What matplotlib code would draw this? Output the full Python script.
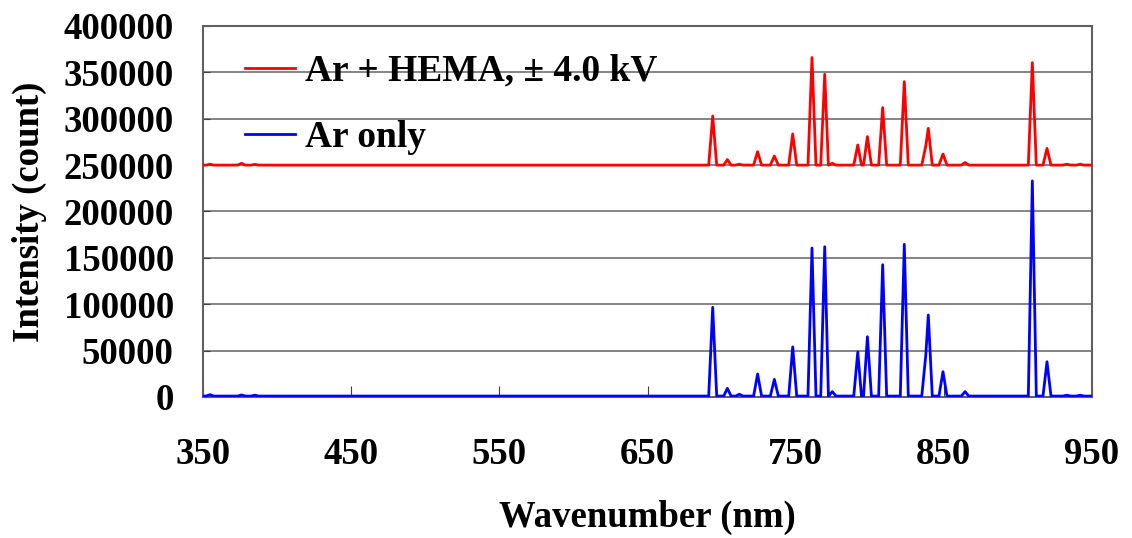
import numpy as np
import matplotlib.pyplot as plt

plt.rcParams['font.family'] = ['Liberation Serif', 'DejaVu Serif']
plt.rcParams['font.weight'] = 'bold'

# Spectrum vertices (one emission line per row)
wavelength = [350,
              352.2, 354.7, 357.2,
              373.5, 376.0, 378.5,
              382.5, 385.0, 387.5,
              691.3, 694.0, 696.7,
              701.4, 703.9, 706.4,
              709.5, 712.0, 714.5,
              721.6, 724.3, 727.0,
              732.9, 735.6, 738.3,
              745.3, 748.0, 750.7,
              758.3, 761.0, 763.7,
              766.9, 769.6, 772.1,
              772.2, 774.7, 777.2,
              789.2, 791.9, 794.4,
              795.8, 798.4, 801.1,
              806.0, 808.7, 811.4,
              820.6, 823.3, 826.0,
              835.1, 837.8, 839.5, 842.2,
              846.7, 849.4, 852.1,
              861.8, 864.3, 866.8,
              907.0, 909.7, 912.4,
              916.9, 919.6, 922.3,
              930.5, 933.0, 935.5,
              939.5, 942.0, 944.5,
              950]

ar_hema = [250000,
           250000, 251000, 250000,
           250000, 252000, 250000,
           250000, 250800, 250000,
           250000, 303000, 250000,
           250000, 256000, 250000,
           250000, 251000, 250000,
           250000, 264500, 250000,
           250000, 259800, 250000,
           250000, 283600, 250000,
           250000, 366000, 250000,
           250000, 348000, 250000,
           250000, 252000, 250000,
           250000, 271700, 250000,
           250000, 280700, 250000,
           250000, 312000, 250000,
           250000, 340000, 250000,
           250000, 270600, 289700, 250000,
           250000, 262000, 250000,
           250000, 252800, 250000,
           250000, 360500, 250000,
           250000, 268000, 250000,
           250000, 251000, 250000,
           250000, 251000, 250000,
           250000]

ar_only = [1000,
           1000, 2500, 1000,
           1000, 2200, 1000,
           1000, 2000, 1000,
           1000, 96700, 1000,
           1000, 9300, 1000,
           1000, 3000, 1000,
           1000, 24800, 1000,
           1000, 19000, 1000,
           1000, 54000, 1000,
           1000, 160600, 1000,
           1000, 162000, 1000,
           1000, 5800, 1000,
           1000, 48500, 1000,
           1000, 65000, 1000,
           1000, 142600, 1000,
           1000, 164600, 1000,
           1000, 45000, 88400, 1000,
           1000, 27300, 1000,
           1000, 5800, 1000,
           1000, 233000, 1000,
           1000, 38000, 1000,
           1000, 2000, 1000,
           1000, 2000, 1000,
           1000]

x_ticks = [350, 450, 550, 650, 750, 850, 950]
y_ticks = np.arange(0, 400001, 50000)

fig = plt.figure(figsize=(11.32, 5.38), dpi=100)
ax = fig.add_axes([0.1793, 0.2621, 0.7854, 0.6896])

ax.plot(wavelength, ar_hema, color='#ff0000', lw=2, label='Ar + HEMA, ± 4.0 kV', zorder=3)
ax.plot(wavelength, ar_only, color='#0000ff', lw=2, label='Ar only', zorder=3)

ax.set_xlim(350, 950)
ax.set_ylim(0, 400000)
ax.set_xticks(x_ticks)
ax.set_yticks(y_ticks)
ax.yaxis.grid(True, color='#707070', lw=1.2)
ax.set_axisbelow(True)
ax.tick_params(axis='both', direction='in', labelsize=26.5, color='#404040')
ax.tick_params(axis='x', length=8, pad=29)
ax.tick_params(axis='y', length=5, pad=21)
for lab in ax.get_xticklabels() + ax.get_yticklabels():
    lab.set_fontweight('bold')
for s in ax.spines.values():
    s.set_color('#606060')
    s.set_linewidth(1.5)

ax.set_xlabel('Wavenumber (nm)', fontsize=26.5, fontweight='bold', labelpad=20)
ax.set_ylabel('Intensity (count)', fontsize=26.5, fontweight='bold', labelpad=12)

ax.legend(loc='upper left', bbox_to_anchor=(0.047, 0.925), frameon=False,
          prop={'size': 27, 'weight': 'bold'}, handlelength=1.33,
          handletextpad=0.27, labelspacing=0.84, borderpad=0, borderaxespad=0)

fig.savefig('out.png', dpi=100)
